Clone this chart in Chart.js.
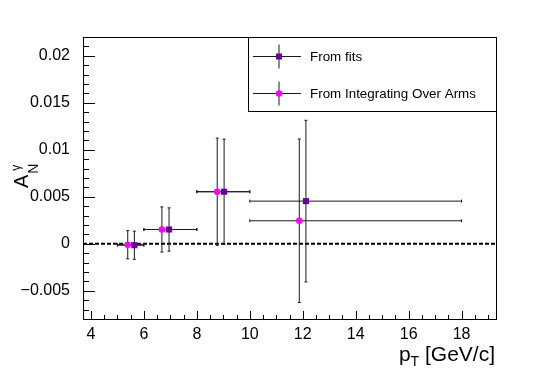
<!DOCTYPE html>
<html>
<head>
<meta charset="utf-8">
<script src="https://cdn.jsdelivr.net/npm/chart.js@4.4.1/dist/chart.umd.min.js"></script>
<style>
  html, body { margin: 0; padding: 0; background: #fff; }
</style>
</head>
<body>
<canvas id="chart" width="552" height="375"></canvas>
<script>
// pT bins (x error bars are the bin edges)
const binLow = [5, 6, 8, 10];
const binHigh = [6, 8, 10, 18];

// "From fits"
const fitsX = [5.64, 6.95, 9.03, 12.12];
const fitsY = [-0.00015, 0.00152, 0.00554, 0.00454];
const fitsErr = [0.0015, 0.0023, 0.0056, 0.0086];

// "From Integrating Over Arms"
const armsX = [5.39, 6.68, 8.77, 11.87];
const armsY = [-0.0001, 0.00152, 0.00554, 0.00245];
const armsErr = [0.0015, 0.0024, 0.0057, 0.0087];

const xTicks = [4, 6, 8, 10, 12, 14, 16, 18];
const xTickLabels = ['4', '6', '8', '10', '12', '14', '16', '18'];
const yTicks = [-0.005, 0, 0.005, 0.01, 0.015, 0.02];
const yTickLabels = ['\u22120.005', '0', '0.005', '0.01', '0.015', '0.02'];

const seriesNames = ['From fits', 'From Integrating Over Arms'];

const FONT = "'Liberation Sans', Arial, Helvetica, sans-serif";
const fitsColor = '#660099';
const armsColor = '#ff00ff';
const barColor = '#1a1a1a';

function toPoints(xs, ys) {
  return xs.map((x, i) => ({ x, y: ys[i] }));
}

function line(ctx, x1, y1, x2, y2) {
  ctx.beginPath();
  ctx.moveTo(x1, y1);
  ctx.lineTo(x2, y2);
  ctx.stroke();
}

function drawErrors(ctx, xs, ys, errs, xScale, yScale) {
  ctx.save();
  ctx.strokeStyle = barColor;
  ctx.lineWidth = 1;
  xs.forEach((x, i) => {
    const px = xScale.getPixelForValue(x);
    const py = yScale.getPixelForValue(ys[i]);
    const xl = xScale.getPixelForValue(binLow[i]);
    const xr = xScale.getPixelForValue(binHigh[i]);
    const yt = yScale.getPixelForValue(ys[i] + errs[i]);
    const yb = yScale.getPixelForValue(ys[i] - errs[i]);
    line(ctx, xl, py, xr, py);
    line(ctx, xl, py - 1.5, xl, py + 1.5);
    line(ctx, xr, py - 1.5, xr, py + 1.5);
    line(ctx, px, yt, px, yb);
    line(ctx, px - 1.5, yt, px + 1.5, yt);
    line(ctx, px - 1.5, yb, px + 1.5, yb);
  });
  ctx.restore();
}

function drawMarker(ctx, kind, x, y) {
  ctx.save();
  if (kind === 'rect') {
    ctx.fillStyle = fitsColor;
    ctx.fillRect(x - 3, y - 3, 6, 6);
  } else {
    ctx.fillStyle = armsColor;
    ctx.beginPath();
    ctx.arc(x, y, 3.3, 0, Math.PI * 2);
    ctx.fill();
  }
  ctx.restore();
}

const rootStyle = {
  id: 'rootStyle',
  beforeDatasetsDraw(chart) {
    const { ctx, chartArea: a, scales: { x, y } } = chart;
    // dashed zero line
    ctx.save();
    ctx.strokeStyle = '#000';
    ctx.lineWidth = 2;
    ctx.setLineDash([4, 2]);
    const y0 = y.getPixelForValue(0);
    line(ctx, a.left, y0, a.right, y0);
    ctx.restore();

    drawErrors(ctx, fitsX, fitsY, fitsErr, x, y);
    drawErrors(ctx, armsX, armsY, armsErr, x, y);
  },
  afterDatasetsDraw(chart) {
    const { ctx, chartArea: a, scales: { x, y } } = chart;
    ctx.save();
    ctx.strokeStyle = '#000';
    ctx.lineWidth = 1;

    // inward ticks
    for (let v = 4; v <= 19.01; v += 0.5) {
      const px = Math.round(x.getPixelForValue(v)) + 0.5;
      const len = Math.abs(v - Math.round(v / 2) * 2) < 1e-6 ? 8 : 4;
      line(ctx, px, a.bottom, px, a.bottom - len);
    }
    for (let k = -8; k <= 22; k++) {
      const py = Math.round(y.getPixelForValue(k / 1000)) + 0.5;
      const len = k % 5 === 0 ? 12 : 6;
      line(ctx, a.left, py, a.left + len, py);
    }

    // frame
    ctx.strokeRect(Math.round(a.left) + 0.5, Math.round(a.top) + 0.5,
      Math.round(a.right - a.left), Math.round(a.bottom - a.top));

    // legend box
    ctx.fillStyle = '#fff';
    ctx.fillRect(248.5, 37.5, 248, 74);
    ctx.strokeRect(248.5, 37.5, 248, 74);

    const rows = [56.5, 93.5];
    const kinds = ['rect', 'circle'];
    rows.forEach((ry, i) => {
      ctx.strokeStyle = barColor;
      line(ctx, 253, ry, 301, ry);
      line(ctx, 279, ry - 12, 279, ry + 12);
      drawMarker(ctx, kinds[i], 279, ry);
      ctx.fillStyle = '#000';
      ctx.font = `13.4px ${FONT}`;
      ctx.textBaseline = 'middle';
      ctx.textAlign = 'left';
      ctx.fillText(seriesNames[i], 310, ry + 1);
    });

    // x title: p_T [GeV/c]
    ctx.textBaseline = 'alphabetic';
    ctx.fillStyle = '#000';
    const parts = [
      { t: 'p', size: 21, dy: 0 },
      { t: 'T', size: 14, dy: 5 },
      { t: ' [GeV/c]', size: 21, dy: 0 }
    ];
    let total = 0;
    parts.forEach((p) => { ctx.font = `${p.size}px ${FONT}`; p.w = ctx.measureText(p.t).width; total += p.w; });
    let cx = 495 - total;
    parts.forEach((p) => {
      ctx.font = `${p.size}px ${FONT}`;
      ctx.fillText(p.t, cx, 361 + p.dy);
      cx += p.w;
    });

    // y title: A_N^gamma
    ctx.translate(28, 188);
    ctx.rotate(-Math.PI / 2);
    ctx.font = `20px ${FONT}`;
    ctx.fillText('A', 0, 0);
    const aw = ctx.measureText('A').width;
    ctx.font = `14px ${FONT}`;
    ctx.fillText('N', aw + 1, 10);
    ctx.font = `12px ${FONT}`;
    ctx.fillText('\u03b3', aw + 4, -8);
    ctx.restore();
  }
};

new Chart(document.getElementById('chart'), {
  type: 'scatter',
  data: {
    datasets: [
      {
        label: seriesNames[0],
        data: toPoints(fitsX, fitsY),
        pointStyle: 'rect',
        pointRadius: 4.3,
        backgroundColor: fitsColor,
        borderColor: fitsColor,
        borderWidth: 0
      },
      {
        label: seriesNames[1],
        data: toPoints(armsX, armsY),
        pointStyle: 'circle',
        pointRadius: 3.3,
        backgroundColor: armsColor,
        borderColor: armsColor,
        borderWidth: 0
      }
    ]
  },
  options: {
    responsive: false,
    animation: false,
    events: [],
    layout: { padding: { top: 37, right: 56, left: 0, bottom: 0 } },
    plugins: { legend: { display: false }, tooltip: { enabled: false } },
    scales: {
      x: {
        type: 'linear',
        min: 3.7,
        max: 19.3,
        grid: { display: false },
        border: { display: false },
        afterFit(scale) { scale.height = 56; },
        afterBuildTicks(scale) { scale.ticks = xTicks.map((v) => ({ value: v })); },
        ticks: {
          color: '#000',
          padding: -2,
          maxRotation: 0,
          font: { family: FONT, size: 16 },
          callback: (value) => xTickLabels[xTicks.indexOf(value)]
        }
      },
      y: {
        type: 'linear',
        min: -0.008,
        max: 0.022,
        grid: { display: false },
        border: { display: false },
        afterFit(scale) { scale.width = 83; },
        afterBuildTicks(scale) { scale.ticks = yTicks.map((v) => ({ value: v })); },
        ticks: {
          color: '#000',
          padding: 5,
          font: { family: FONT, size: 16 },
          callback: (value) => yTickLabels[yTicks.indexOf(value)]
        }
      }
    }
  },
  plugins: [rootStyle]
});
</script>
</body>
</html>
